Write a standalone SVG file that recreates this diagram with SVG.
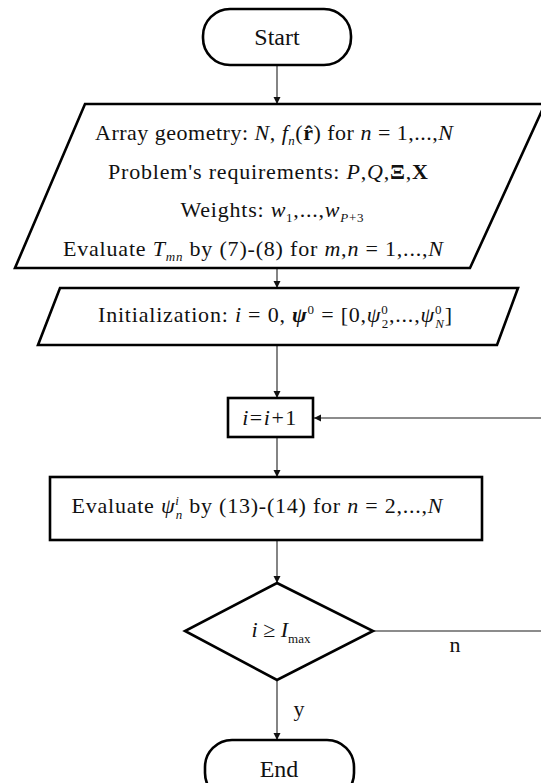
<svg xmlns="http://www.w3.org/2000/svg" width="541" height="783" viewBox="0 0 541 783">
<style>
.shape{fill:#fff;stroke:#000;stroke-width:2.6;stroke-linejoin:miter}
.conn{fill:none;stroke:#333;stroke-width:1.2}
.fb{fill:none;stroke:#666;stroke-width:1.6}
.t{font-family:"Liberation Serif","DejaVu Serif",serif;font-size:22px;fill:#111;text-anchor:middle}
.tt{font-family:"Liberation Serif","DejaVu Serif",serif;font-size:24px;fill:#111;text-anchor:middle}
.i{font-style:italic}
.b{font-weight:bold}
.s{font-size:13px;font-style:italic}
.sn{font-size:13px}
</style>
<defs>
<marker id="ah" markerWidth="8" markerHeight="8" refX="7" refY="4" orient="auto" markerUnits="userSpaceOnUse">
<path d="M0,0.5 L7,4 L0,7.5 Z" fill="#111"/>
</marker>
</defs>
<g id="connectors">
<line class="conn" x1="277" y1="65" x2="277" y2="104" marker-end="url(#ah)"/>
<line class="conn" x1="277" y1="268" x2="277" y2="288" marker-end="url(#ah)"/>
<line class="conn" x1="277" y1="345" x2="277" y2="398" marker-end="url(#ah)"/>
<line class="conn" x1="277" y1="437" x2="277" y2="477" marker-end="url(#ah)"/>
<line class="conn" x1="277" y1="540" x2="277" y2="583" marker-end="url(#ah)"/>
<line class="conn" x1="277" y1="680" x2="277" y2="740" marker-end="url(#ah)"/>
<line class="fb" x1="373" y1="631" x2="541" y2="631"/>
<line class="fb" x1="541" y1="418" x2="314" y2="418" marker-end="url(#ah)"/>
<text class="tt" x="455" y="652" style="font-size:22px">n</text>
<text class="tt" x="299" y="716" style="font-size:22px">y</text>
</g>
<g id="start">
<rect class="shape" x="203" y="9" width="148" height="56" rx="27"/>
<text class="tt" x="277" y="45">Start</text>
</g>
<g id="inputs">
<path class="shape" d="M85,104 L545,104 L470,268 L15,268 Z"/>
<text class="t" x="274" y="140" textLength="358" lengthAdjust="spacing">Array geometry: <tspan class="i">N</tspan>, <tspan class="i">f</tspan><tspan class="s" dy="5">n</tspan><tspan dy="-5">(</tspan><tspan class="b">r̂</tspan>) for <tspan class="i">n</tspan> = 1,...,<tspan class="i">N</tspan></text>
<text class="t" x="268" y="179" textLength="320" lengthAdjust="spacing">Problem's requirements: <tspan class="i">P</tspan>,<tspan class="i">Q</tspan>,<tspan class="b">Ξ</tspan>,<tspan class="b">X</tspan></text>
<text class="t" x="272" y="217" textLength="183" lengthAdjust="spacing">Weights: <tspan class="i">w</tspan><tspan class="sn" dy="5">1</tspan><tspan dy="-5">,...,</tspan><tspan class="i">w</tspan><tspan class="s" dy="5">P</tspan><tspan class="sn">+3</tspan></text>
<text class="t" x="253" y="256" textLength="380" lengthAdjust="spacing">Evaluate <tspan class="i">T</tspan><tspan class="s" dy="5">mn</tspan><tspan dy="-5"> by (7)-(8) for </tspan><tspan class="i">m</tspan>,<tspan class="i">n</tspan> = 1,...,<tspan class="i">N</tspan></text>
</g>
<g id="init">
<path class="shape" d="M60,288 L518,288 L497,345 L38,345 Z"/>
<text class="t" x="275" y="322" textLength="354" lengthAdjust="spacing">Initialization: <tspan class="i">i</tspan> = 0, <tspan class="i b">ψ</tspan><tspan class="sn" dy="-8">0</tspan><tspan dy="8"> = [0,</tspan><tspan class="i">ψ</tspan><tspan class="sn" dy="-8">0</tspan><tspan class="sn" dx="-7" dy="14">2</tspan><tspan dy="-6">,...,</tspan><tspan class="i">ψ</tspan><tspan class="sn" dy="-8">0</tspan><tspan class="s" dx="-7" dy="14">N</tspan><tspan dy="-6">]</tspan></text>
</g>
<g id="increment">
<rect class="shape" x="228" y="398" width="85" height="39"/>
<text class="t" x="270" y="425" style="letter-spacing:1.5px"><tspan class="i">i</tspan>=<tspan class="i">i</tspan>+1</text>
</g>
<g id="evaluate">
<rect class="shape" x="50" y="477" width="432" height="63"/>
<text class="t" x="257" y="513" textLength="371" lengthAdjust="spacing">Evaluate <tspan class="i">ψ</tspan><tspan class="s" dy="-8">i</tspan><tspan class="s" dx="-4" dy="14">n</tspan><tspan dy="-6"> by (13)-(14) for </tspan><tspan class="i">n</tspan> = 2,...,<tspan class="i">N</tspan></text>
</g>
<g id="decision">
<path class="shape" d="M277,583 L373,631 L277,680 L185,631 Z"/>
<text class="t" x="281" y="637"><tspan class="i">i</tspan> ≥ <tspan class="i">I</tspan><tspan class="sn" dy="6">max</tspan></text>
</g>
<g id="end">
<rect class="shape" x="205" y="740" width="149" height="60" rx="27"/>
<text class="tt" x="279" y="777">End</text>
</g>
</svg>
